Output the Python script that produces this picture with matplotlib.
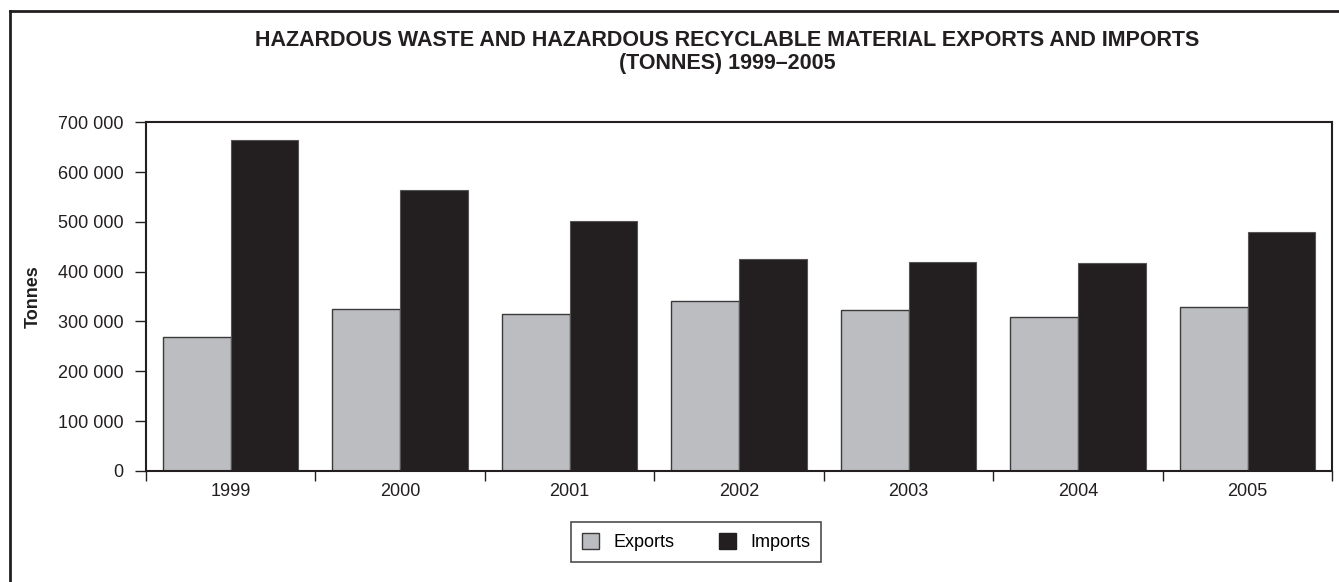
import matplotlib.pyplot as plt
from matplotlib.lines import Line2D
from matplotlib.patches import Patch
from matplotlib.ticker import FuncFormatter
import numpy as np

plt.rcParams['font.family'] = ['Liberation Sans', 'DejaVu Sans']

years = ['1999', '2000', '2001', '2002', '2003', '2004', '2005']
exports = [269000, 324000, 314500, 341000, 322000, 309000, 329000]
imports = [665000, 563000, 501000, 425000, 419000, 418000, 479000]

export_col = '#bcbdc0'
import_col = '#231f20'
edge_col = '#3a3a3a'


def thousands(v, pos):
    return '{:,.0f}'.format(v).replace(',', ' ')


fig = plt.figure(figsize=(13.39, 5.82), dpi=100)
ax = fig.add_axes([0.109, 0.191, 0.886, 0.599])

x = np.arange(len(years))
w = 0.4
ax.bar(x - w/2, exports, w, color=export_col, edgecolor=edge_col, linewidth=1.0, label='Exports')
ax.bar(x + w/2, imports, w, color=import_col, edgecolor='#555555', linewidth=0.8, label='Imports')

ax.set_xlim(-0.5, len(years) - 0.5)
ax.set_ylim(0, 700000)
ax.set_yticks(np.arange(0, 700001, 100000))
ax.yaxis.set_major_formatter(FuncFormatter(thousands))
ax.set_xticks(x)
ax.set_xticklabels(years)
ax.set_xticks(np.arange(-0.5, len(years)), minor=True)
ax.tick_params(axis='x', which='major', length=0, labelsize=13, pad=9, colors='#231f20')
ax.tick_params(axis='x', which='minor', length=7, width=1.0, direction='out', color='#231f20')
ax.tick_params(axis='y', length=8, width=1.0, direction='out', labelsize=13, pad=8, colors='#231f20')

for s in ax.spines.values():
    s.set_linewidth(1.5)
    s.set_color('#231f20')

ax.set_ylabel('Tonnes', fontsize=13, fontweight='bold', labelpad=12, color='#231f20')

# title, two lines
fig.text(0.543, 1 - 40.5/582, 'HAZARDOUS WASTE AND HAZARDOUS RECYCLABLE MATERIAL EXPORTS AND IMPORTS',
         ha='center', va='center', fontsize=15.5, fontweight='bold', color='#231f20')
fig.text(0.543, 1 - 63/582, '(TONNES) 1999\u20132005',
         ha='center', va='center', fontsize=15.5, fontweight='bold', color='#231f20')

handles = [Patch(facecolor=export_col, edgecolor=edge_col, label='Exports'),
           Patch(facecolor=import_col, edgecolor=import_col, label='Imports')]
leg = fig.legend(handles=handles, loc='center', bbox_to_anchor=(0.520, 0.0685), ncol=2,
                 fontsize=13, frameon=True, fancybox=False, edgecolor='#231f20',
                 handlelength=0.95, handleheight=0.95, columnspacing=2.45, borderpad=0.6)
leg.get_frame().set_linewidth(1.2)

# outer frame lines
fig.add_artist(Line2D([10/1339, 10/1339], [0, 1 - 11/582], color='#231f20', lw=2, transform=fig.transFigure))
fig.add_artist(Line2D([10/1339, 1], [1 - 11/582, 1 - 11/582], color='#231f20', lw=2, transform=fig.transFigure))

fig.savefig('out.png', dpi=100)
